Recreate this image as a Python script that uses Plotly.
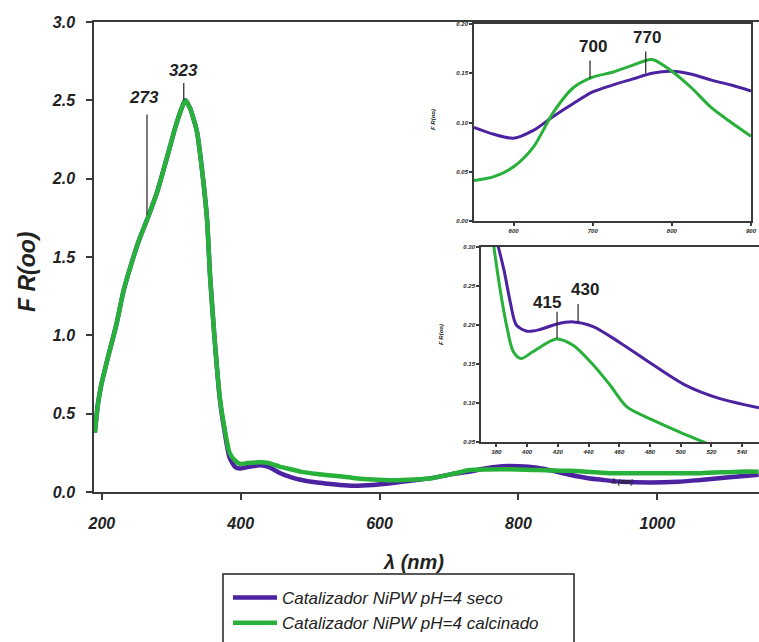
import plotly.graph_objects as go

W, H = 759, 642

# ---------------- data ----------------
series_names = ["Catalizador NiPW pH=4 seco", "Catalizador NiPW pH=4 calcinado"]
series_colors = ["#4b22a0", "#27b03a"]

main_x_seco = [190, 194, 199, 210, 221, 231, 242, 253, 267, 280, 296, 306, 315, 320, 327, 337,
               346, 351.5, 356, 362, 370, 377, 384, 392, 399, 410, 429, 440, 457, 472, 486, 510,
               543, 562, 590, 619, 650, 677, 705, 730, 745, 777, 800, 827, 850, 874, 900, 922,
               950, 990, 1030, 1062, 1100, 1146]
main_y_seco = [0.38, 0.55, 0.68, 0.88, 1.07, 1.28, 1.45, 1.60, 1.76, 1.92, 2.17, 2.33, 2.45, 2.50, 2.45, 2.30,
               1.99, 1.74, 1.37, 1.00, 0.59, 0.38, 0.22, 0.16, 0.15, 0.16, 0.17, 0.16, 0.12, 0.095, 0.078, 0.06,
               0.045, 0.04, 0.045, 0.058, 0.075, 0.09, 0.115, 0.13, 0.145, 0.165, 0.165, 0.155, 0.135, 0.11, 0.088, 0.077,
               0.065, 0.06, 0.065, 0.077, 0.092, 0.11]

main_x_calc = [190, 194, 199, 210, 221, 231, 242, 253, 267, 280, 296, 306, 315, 320, 327, 337,
               346, 351.5, 356, 362, 370, 377, 384, 392, 399, 410, 429, 440, 457, 472, 486, 510,
               543, 562, 590, 619, 650, 677, 705, 730, 778, 830, 874, 932, 1000, 1062, 1119, 1146]
main_y_calc = [0.38, 0.55, 0.68, 0.88, 1.07, 1.28, 1.45, 1.60, 1.76, 1.92, 2.17, 2.33, 2.45, 2.50, 2.45, 2.30,
               1.99, 1.74, 1.37, 1.00, 0.60, 0.40, 0.25, 0.20, 0.18, 0.185, 0.19, 0.185, 0.16, 0.145, 0.13, 0.115,
               0.10, 0.09, 0.08, 0.075, 0.08, 0.09, 0.115, 0.14, 0.145, 0.14, 0.135, 0.12, 0.12, 0.12, 0.13, 0.13]

ins1_x = [550, 575, 600, 625, 650, 675, 700, 725, 750, 775, 800, 825, 850, 875, 900]
ins1_seco = [0.095, 0.088, 0.084, 0.092, 0.106, 0.119, 0.131, 0.138, 0.144, 0.150, 0.152, 0.149, 0.143, 0.138, 0.132]
ins1_calc = [0.041, 0.045, 0.055, 0.075, 0.110, 0.135, 0.146, 0.151, 0.158, 0.164, 0.152, 0.135, 0.115, 0.100, 0.086]

ins2_x_seco = [380, 385, 389, 393, 400, 408, 419, 430, 443, 460, 482, 503, 525, 551]
ins2_seco = [0.31, 0.27, 0.23, 0.20, 0.192, 0.194, 0.201, 0.204, 0.198, 0.178, 0.149, 0.123, 0.106, 0.094]
ins2_x_calc = [377, 382, 387, 391, 396, 404, 419, 430, 443, 454, 465, 482, 499, 515, 525]
ins2_calc = [0.32, 0.251, 0.196, 0.166, 0.157, 0.166, 0.182, 0.174, 0.149, 0.123, 0.095, 0.078, 0.063, 0.05, 0.042]

main_xticks = [200, 400, 600, 800, 1000]
main_yticks = [0.0, 0.5, 1.0, 1.5, 2.0, 2.5, 3.0]
ins1_xticks = [600, 700, 800, 900]
ins1_yticks = [0.00, 0.05, 0.10, 0.15, 0.20]
ins2_xticks = [380, 400, 420, 440, 460, 480, 500, 520, 540]
ins2_yticks = [0.05, 0.10, 0.15, 0.20, 0.25, 0.30]

# peak labels: (text, line x, line y0, line y1, text x, text y, axis)
peak_labels = [
    ("273", 265, 1.77, 2.41, 261, 2.52, ""),
    ("323", 318, 2.50, 2.61, 317, 2.69, ""),
    ("700", 696.6, 0.145, 0.163, 700, 0.177, "2"),
    ("770", 767, 0.150, 0.172, 769, 0.186, "2"),
    ("415", 419.5, 0.183, 0.217, 413, 0.229, "3"),
    ("430", 433.2, 0.204, 0.227, 438, 0.245, "3"),
]

# ---------------- figure ----------------
def px(x):
    return x / W

def py(y):
    return 1 - y / H

FONT = "Liberation Sans, Arial, sans-serif"
TXT = "#222222"
AX = "#3a3a3a"

fig = go.Figure()

for xs, ys, nm, col in [(main_x_seco, main_y_seco, series_names[0], series_colors[0]),
                        (main_x_calc, main_y_calc, series_names[1], series_colors[1])]:
    fig.add_trace(go.Scatter(x=xs, y=ys, mode="lines", name=nm,
                             line=dict(color=col, width=4.5, shape="spline", smoothing=0.6),
                             xaxis="x", yaxis="y"))

fig.add_trace(go.Scatter(x=ins1_x, y=ins1_seco, mode="lines", showlegend=False,
                         line=dict(color=series_colors[0], width=3, shape="spline", smoothing=0.8),
                         xaxis="x2", yaxis="y2"))
fig.add_trace(go.Scatter(x=ins1_x, y=ins1_calc, mode="lines", showlegend=False,
                         line=dict(color=series_colors[1], width=3, shape="spline", smoothing=0.8),
                         xaxis="x2", yaxis="y2"))
fig.add_trace(go.Scatter(x=ins2_x_seco, y=ins2_seco, mode="lines", showlegend=False,
                         line=dict(color=series_colors[0], width=3, shape="spline", smoothing=0.8),
                         xaxis="x3", yaxis="y3"))
fig.add_trace(go.Scatter(x=ins2_x_calc, y=ins2_calc, mode="lines", showlegend=False,
                         line=dict(color=series_colors[1], width=3, shape="spline", smoothing=0.8),
                         xaxis="x3", yaxis="y3"))

tickfont_main = dict(family=FONT, size=16, color=TXT, style="italic", weight="bold")
tickfont_small = dict(family=FONT, size=6, color=TXT, style="italic", weight="bold")

common = dict(showgrid=False, zeroline=False, showline=True, linecolor=AX, linewidth=1.5,
              ticks="outside", tickcolor=AX, tickwidth=1.5, automargin=False)

layout = dict(
    width=W, height=H,
    margin=dict(l=0, r=0, t=0, b=0, autoexpand=False),
    paper_bgcolor="white", plot_bgcolor="white",
    xaxis=dict(domain=[px(94), 1], range=[188.7, 1146.5], tickvals=main_xticks,
               ticklen=6, tickfont=tickfont_main, mirror=True, ticklabelstandoff=10, **common),
    yaxis=dict(domain=[py(492), py(22)], range=[0, 3], tickvals=main_yticks, tickformat=".1f",
               ticklen=6, tickfont=tickfont_main, ticklabelstandoff=8, **common),
    xaxis2=dict(domain=[px(474), px(751)], range=[550, 900], tickvals=ins1_xticks, anchor="y2",
                ticklen=3, tickfont=tickfont_small, mirror=True, **common),
    yaxis2=dict(domain=[py(221), py(24)], range=[0, 0.2], tickvals=ins1_yticks, tickformat=".2f",
                anchor="x2", ticklen=3, tickfont=tickfont_small, mirror=True, **common),
    xaxis3=dict(domain=[px(481), 1], range=[370, 551], tickvals=ins2_xticks, anchor="y3",
                ticklen=3, tickfont=tickfont_small, mirror=True, **common),
    yaxis3=dict(domain=[py(442), py(247)], range=[0.05, 0.30], tickvals=ins2_yticks, tickformat=".2f",
                anchor="x3", ticklen=3, tickfont=tickfont_small, **common),
    showlegend=True,
    legend=dict(x=px(228), y=py(580), xanchor="left", yanchor="top",
                xref="container", yref="container",
                bgcolor="rgba(0,0,0,0)", borderwidth=0, itemwidth=44,
                font=dict(family=FONT, size=17, color=TXT, style="italic"),
                tracegroupgap=0),
)
fig.update_layout(**layout)

shapes = []
annotations = []
for txt, lx, ly0, ly1, tx, ty, ax in peak_labels:
    shapes.append(dict(type="line", xref="x" + ax, yref="y" + ax, x0=lx, x1=lx, y0=ly0, y1=ly1,
                       line=dict(color="#222222", width=1.2)))
    annotations.append(dict(text=txt, xref="x" + ax, yref="y" + ax, x=tx, y=ty, showarrow=False,
                            font=dict(family=FONT, size=17, color=TXT,
                                      style="italic" if ax == "" else "normal", weight="bold"),
                            xanchor="center", yanchor="middle"))

# legend box
shapes.append(dict(type="rect", xref="paper", yref="paper", x0=px(223), x1=px(574), y0=py(660), y1=py(574),
                   line=dict(color="#222222", width=1.5), fillcolor="rgba(0,0,0,0)"))

# axis titles
annotations.append(dict(text="λ (nm)", xref="paper", yref="paper", x=px(413), y=py(562), showarrow=False,
                        font=dict(family=FONT, size=20, color=TXT, style="italic", weight="bold"),
                        xanchor="center", yanchor="middle"))
annotations.append(dict(text="F R(oo)", xref="paper", yref="paper", x=px(27), y=py(272), showarrow=False,
                        textangle=-90,
                        font=dict(family=FONT, size=23, color=TXT, style="italic", weight="bold"),
                        xanchor="center", yanchor="middle"))
annotations.append(dict(text="F R(oo)", xref="paper", yref="paper", x=px(433), y=py(120), showarrow=False,
                        textangle=-90, font=dict(family=FONT, size=6, color=TXT, style="italic", weight="bold"),
                        xanchor="center", yanchor="middle"))
annotations.append(dict(text="F R(oo)", xref="paper", yref="paper", x=px(441), y=py(335), showarrow=False,
                        textangle=-90, font=dict(family=FONT, size=6, color=TXT, style="italic", weight="bold"),
                        xanchor="center", yanchor="middle"))
annotations.append(dict(text="λ (nm)", xref="paper", yref="paper", x=px(622), y=py(482), showarrow=False,
                        font=dict(family=FONT, size=7, color=TXT, style="italic", weight="bold"),
                        xanchor="center", yanchor="middle"))

fig.update_layout(shapes=shapes, annotations=annotations)

fig.write_html("out.html")
